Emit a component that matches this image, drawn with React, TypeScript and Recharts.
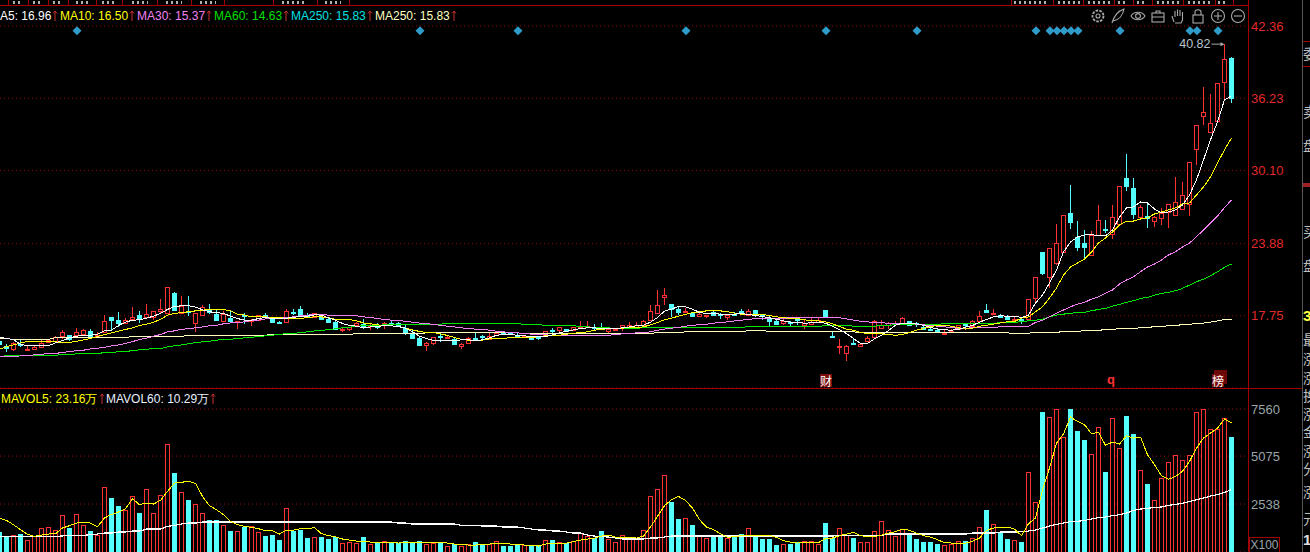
import { ComposedChart, Bar, Line, XAxis, YAxis, CartesianGrid, ReferenceDot } from 'recharts';

// daily prices
const opens = [
  15.59,15.22,14.91,15.34,14.91,14.94,15.11,15.51,15.59,16.05,
  16.08,16.13,16.19,16.44,15.91,16.36,17.64,17.38,17.10,17.46,
  17.81,17.64,17.64,18.17,18.03,19.65,18.03,18.15,17.13,17.81,
  18.37,17.92,17.29,17.55,17.24,17.78,17.27,17.41,17.81,17.44,
  17.21,17.24,18.06,18.32,17.83,17.66,17.66,17.44,17.24,16.64,
  16.64,16.93,17.04,16.90,16.95,17.04,17.18,17.10,16.70,16.22,
  15.85,15.31,15.40,16.05,15.85,15.82,15.22,15.45,15.88,16.05,
  15.79,16.10,16.30,16.30,16.13,15.96,15.96,15.96,16.02,16.53,
  16.56,16.67,16.56,16.78,16.81,16.81,16.81,16.44,16.59,16.70,
  16.76,16.81,16.95,17.38,18.00,19.31,18.74,18.32,18.15,18.03,
  17.75,17.78,18.06,17.89,17.66,17.92,18.17,17.86,18.23,17.81,
  17.46,17.32,17.15,17.24,17.46,17.01,17.07,17.24,18.23,16.02,
  15.11,14.57,15.40,15.20,15.59,15.96,16.73,17.01,17.07,17.15,
  17.29,17.15,16.84,16.64,16.56,16.27,16.42,16.64,17.07,16.90,
  17.32,18.26,17.89,17.78,17.64,17.46,17.52,17.49,19.26,23.20,
  21.04,22.23,23.14,26.52,24.41,23.96,22.88,24.58,25.12,24.73,
  25.58,29.49,28.64,26.12,26.20,25.81,26.03,26.60,26.35,26.83,
  27.26,31.88,34.71,33.35,34.28,37.64,39.64,
];
const highs = [
  15.68,15.34,15.54,15.74,15.17,15.25,15.68,15.79,16.02,16.53,
  16.10,16.70,16.59,16.62,16.36,17.81,17.64,18.06,17.55,18.49,
  18.15,18.74,18.20,19.17,20.16,19.76,19.42,19.42,17.98,18.66,
  18.74,18.37,18.15,18.15,17.29,18.03,17.44,17.81,17.98,17.58,
  17.29,18.32,18.32,18.57,17.95,18.00,17.72,17.58,17.32,16.81,
  16.81,17.21,17.46,17.18,17.10,17.21,17.32,17.21,16.93,16.53,
  16.02,15.54,15.96,16.25,16.10,15.96,15.45,15.93,16.30,16.10,
  16.25,16.39,16.36,16.39,16.36,16.10,15.96,16.05,16.44,16.70,
  16.78,16.67,16.81,17.29,17.29,17.04,17.13,16.67,16.73,16.93,
  17.21,17.24,17.38,18.66,19.93,20.08,18.74,18.57,18.43,18.06,
  17.95,17.86,18.17,18.00,17.81,18.09,18.32,18.32,18.23,17.81,
  17.72,17.46,17.52,17.32,17.58,17.46,17.61,17.61,18.23,16.44,
  15.74,15.31,15.82,15.40,16.02,17.38,17.38,17.24,17.32,17.64,
  17.29,17.24,16.95,16.73,16.67,16.53,16.59,16.95,17.07,17.38,
  18.15,18.74,18.37,17.89,17.78,17.66,17.69,19.17,21.04,23.20,
  23.51,25.58,26.32,28.90,25.83,25.07,24.92,27.20,25.86,27.20,
  28.79,31.45,29.49,27.20,27.37,26.26,26.92,27.28,29.55,29.15,
  30.83,33.92,37.21,36.56,37.55,40.82,39.70,
];
const lows = [
  15.25,14.69,14.74,15.11,14.74,14.91,15.03,15.45,15.54,15.74,
  15.59,16.05,16.13,16.02,15.91,16.25,16.44,16.81,17.04,17.44,
  17.13,17.58,17.38,17.95,17.95,18.17,18.00,17.72,16.36,17.78,
  17.89,17.38,17.27,17.29,16.62,17.04,16.87,17.38,17.58,17.13,
  17.04,17.21,17.81,17.75,17.64,17.61,17.41,17.13,16.53,16.39,
  16.47,16.87,16.67,16.53,16.64,16.62,16.98,16.90,16.16,15.74,
  15.17,14.74,15.25,15.54,15.76,15.34,14.94,15.37,15.74,15.68,
  15.68,16.02,16.19,16.08,15.91,15.88,15.68,15.68,15.96,16.25,
  16.30,16.39,16.47,16.76,16.76,16.53,16.56,16.25,16.53,16.42,
  16.73,16.76,16.90,17.32,17.95,18.66,17.66,17.81,17.95,17.66,
  17.72,17.55,17.83,17.46,17.38,17.83,17.95,17.81,17.66,17.38,
  16.87,17.04,17.01,16.87,16.95,16.62,17.04,17.18,17.66,15.93,
  14.49,13.89,15.34,15.17,15.51,15.91,16.70,16.62,17.01,17.10,
  16.95,16.81,16.56,16.47,16.36,16.22,16.36,16.62,16.76,16.76,
  17.24,17.98,17.83,17.58,17.38,17.38,17.07,17.35,18.88,21.18,
  20.11,22.09,23.14,25.15,23.22,22.52,22.88,24.50,24.79,24.28,
  25.58,28.39,25.98,26.00,25.18,25.32,25.49,25.18,26.32,26.77,
  26.20,30.52,33.92,33.32,34.28,36.13,35.80,
];
const closes = [
  15.34,15.00,15.48,15.28,14.97,15.14,15.40,15.68,15.91,16.36,
  15.79,16.36,16.53,16.05,16.10,17.27,17.38,17.18,17.38,17.64,
  17.46,17.89,18.15,18.29,20.16,18.23,18.57,18.06,17.98,18.46,
  18.09,17.38,17.89,17.29,17.27,17.72,17.38,17.78,17.75,17.24,
  17.15,18.12,18.00,17.78,17.78,17.95,17.46,17.24,16.62,16.67,
  16.78,17.10,16.87,16.95,16.76,17.10,17.13,17.01,16.25,15.85,
  15.25,15.40,15.91,15.99,15.93,15.37,15.34,15.88,15.82,15.99,
  16.02,16.33,16.27,16.25,15.93,16.02,15.76,15.88,16.42,16.47,
  16.78,16.50,16.78,16.87,16.87,16.76,16.59,16.64,16.64,16.93,
  17.01,16.93,17.35,18.12,18.63,19.48,18.35,18.06,18.20,17.75,
  17.92,17.86,17.83,17.83,17.78,17.89,18.12,18.20,17.78,17.75,
  17.32,17.04,17.27,17.18,17.41,17.10,17.24,17.38,17.72,15.99,
  15.17,15.17,15.37,15.37,15.85,17.35,16.95,17.18,17.13,17.55,
  17.01,17.07,16.62,16.53,16.39,16.33,16.50,16.93,17.01,17.27,
  17.72,18.09,17.98,17.69,17.46,17.52,17.49,19.17,21.04,21.38,
  23.51,23.94,26.32,25.69,23.56,23.62,24.64,25.89,25.06,26.15,
  28.79,28.81,26.43,27.00,26.03,26.15,26.49,27.26,27.43,28.02,
  30.83,33.92,35.05,34.15,37.55,39.59,36.23,
];

const ma5 = [
  15.96,15.82,15.74,15.31,15.22,15.20,15.20,15.22,15.45,15.65,
  15.88,16.02,16.08,16.10,16.19,16.47,16.53,16.93,17.21,17.38,
  17.41,17.55,17.72,17.95,18.29,18.54,18.60,18.60,18.49,18.26,
  18.09,18.03,17.95,17.72,17.52,17.38,17.38,17.52,17.61,17.52,
  17.52,17.55,17.61,17.72,17.72,17.83,17.81,17.58,17.38,17.10,
  16.93,16.87,16.73,16.81,16.87,16.90,16.90,16.84,16.70,16.39,
  16.02,15.82,15.65,15.62,15.62,15.65,15.71,15.71,15.65,15.71,
  15.88,16.10,16.16,16.16,16.10,16.05,15.96,15.96,15.99,16.13,
  16.30,16.44,16.56,16.67,16.73,16.73,16.67,16.67,16.67,16.73,
  16.81,16.90,16.95,17.21,17.61,18.15,18.32,18.54,18.52,18.32,
  18.03,17.95,17.95,17.89,17.83,17.89,17.95,17.86,17.78,17.69,
  17.58,17.46,17.32,17.21,17.18,17.13,17.15,17.18,17.13,16.87,
  16.56,16.25,15.82,15.40,15.40,15.79,16.10,16.50,16.95,17.13,
  17.13,17.07,16.95,16.76,16.64,16.56,16.53,16.59,16.78,16.93,
  17.21,17.44,17.66,17.75,17.72,17.72,17.61,17.81,18.83,19.51,
  20.53,21.64,23.17,24.02,24.44,24.61,24.64,24.55,24.53,25.04,
  26.14,26.91,26.99,27.42,27.33,26.82,26.48,26.57,26.74,27.16,
  28.01,29.29,30.99,32.69,34.22,36.09,36.43,
];
const ma10 = [
  14.91,15.14,15.28,15.45,15.56,15.56,15.56,15.56,15.54,15.48,
  15.48,15.59,15.71,15.82,15.99,16.16,16.30,16.44,16.59,16.73,
  16.93,17.04,17.21,17.44,17.81,17.95,18.03,18.09,18.17,18.23,
  18.29,18.29,18.29,18.17,17.89,17.81,17.66,17.66,17.66,17.61,
  17.58,17.55,17.52,17.52,17.61,17.66,17.66,17.58,17.46,17.44,
  17.44,17.32,17.15,17.07,16.98,16.93,16.90,16.84,16.70,16.56,
  16.42,16.33,16.33,16.22,16.08,15.91,15.74,15.68,15.65,15.68,
  15.79,15.82,15.82,15.91,15.91,15.93,15.93,15.96,16.05,16.08,
  16.10,16.19,16.27,16.33,16.39,16.53,16.62,16.64,16.67,16.70,
  16.76,16.76,16.81,16.98,17.18,17.41,17.55,17.72,17.86,18.03,
  18.09,18.17,18.17,18.17,18.09,17.98,17.89,17.89,17.86,17.86,
  17.78,17.66,17.61,17.52,17.52,17.41,17.32,17.32,17.24,17.07,
  16.84,16.62,16.53,16.33,16.25,16.25,16.22,16.16,16.10,16.16,
  16.33,16.53,16.67,16.84,16.93,16.95,16.87,16.73,16.62,16.70,
  16.87,16.95,17.04,17.15,17.24,17.27,17.55,17.66,18.09,18.52,
  19.26,20.11,21.21,21.89,22.23,22.57,23.17,23.93,24.36,24.87,
  25.46,25.80,25.80,25.97,26.06,26.40,26.57,26.74,26.91,27.25,
  27.33,28.01,28.69,29.54,30.73,31.84,32.86,
];
const ma30 = [
  14.29,14.29,14.32,14.34,14.40,14.43,14.49,14.54,14.54,14.66,
  14.69,14.80,14.83,14.94,15.00,15.08,15.20,15.28,15.40,15.56,
  15.74,15.85,16.02,16.16,16.39,16.47,16.62,16.64,16.73,16.81,
  16.90,16.95,17.07,17.15,17.18,17.24,17.35,17.38,17.49,17.52,
  17.55,17.61,17.66,17.75,17.81,17.86,17.86,17.81,17.81,17.78,
  17.78,17.75,17.66,17.61,17.52,17.44,17.38,17.35,17.29,17.21,
  17.13,17.10,17.01,16.95,16.87,16.81,16.73,16.67,16.62,16.59,
  16.53,16.44,16.39,16.33,16.30,16.25,16.19,16.16,16.13,16.10,
  16.10,16.10,16.10,16.10,16.10,16.10,16.10,16.10,16.16,16.22,
  16.25,16.30,16.33,16.39,16.53,16.62,16.70,16.76,16.87,16.93,
  17.01,17.04,17.13,17.18,17.24,17.32,17.38,17.44,17.52,17.52,
  17.52,17.55,17.55,17.58,17.61,17.61,17.61,17.61,17.61,17.61,
  17.58,17.49,17.38,17.29,17.24,17.18,17.15,17.13,17.10,17.10,
  17.10,17.04,16.98,16.93,16.87,16.81,16.76,16.67,16.70,16.73,
  16.76,16.76,16.78,16.81,16.84,16.87,16.81,16.87,17.19,17.38,
  17.67,17.98,18.24,18.52,18.74,18.89,19.17,19.37,19.68,19.94,
  20.45,20.79,21.07,21.49,21.89,22.15,22.49,22.92,23.19,23.59,
  23.93,24.47,25.04,25.63,26.23,26.93,27.59,
];
const ma60 = [
  14.29,14.37,14.37,14.37,14.37,14.37,14.37,14.37,14.40,14.46,
  14.46,14.52,14.54,14.54,14.54,14.63,14.63,14.71,14.71,14.80,
  14.86,14.91,14.97,14.97,15.11,15.20,15.28,15.37,15.48,15.54,
  15.59,15.68,15.74,15.76,15.82,15.88,15.93,15.99,16.05,16.10,
  16.19,16.22,16.25,16.33,16.39,16.47,16.50,16.59,16.64,16.73,
  16.78,16.87,16.90,16.95,16.95,16.98,17.01,17.01,17.01,17.01,
  17.04,17.04,17.04,17.04,17.10,17.10,17.10,17.10,17.10,17.10,
  17.10,17.10,17.10,17.10,17.10,17.01,17.01,17.01,16.93,16.93,
  16.93,16.93,16.93,16.81,16.81,16.76,16.73,16.73,16.67,16.67,
  16.67,16.70,16.73,16.73,16.76,16.76,16.76,16.76,16.76,16.76,
  16.76,16.76,16.76,16.76,16.76,16.76,16.76,16.84,16.84,16.84,
  16.84,16.84,16.84,16.84,16.84,16.84,16.84,16.84,16.93,16.93,
  16.93,16.93,16.87,16.87,16.87,16.87,16.93,16.93,17.01,17.01,
  17.01,17.01,17.01,17.01,17.01,17.10,17.10,17.10,17.10,17.10,
  17.10,17.10,17.10,17.18,17.18,17.18,17.27,17.32,17.38,17.47,
  17.67,17.81,17.89,17.98,18.00,18.04,18.18,18.29,18.38,18.57,
  18.72,18.89,19.03,19.23,19.31,19.51,19.65,19.74,19.88,20.08,
  20.36,20.64,20.87,21.15,21.49,21.87,22.15,
];
const ma250 = [
  15.82,15.82,15.74,15.74,15.74,15.74,15.74,15.74,15.91,15.91,
  15.91,15.91,15.91,15.91,15.91,15.91,15.91,15.91,15.91,15.99,
  15.99,15.99,15.99,15.99,15.99,15.99,15.99,16.10,16.10,16.10,
  16.10,16.10,16.10,16.10,16.10,16.10,16.10,16.10,16.10,16.19,
  16.19,16.19,16.19,16.19,16.19,16.19,16.19,16.19,16.19,16.16,
  16.16,16.25,16.25,16.25,16.25,16.25,16.25,16.25,16.25,16.25,
  16.25,16.30,16.30,16.30,16.30,16.30,16.30,16.30,16.30,16.30,
  16.30,16.30,16.30,16.30,16.30,16.25,16.25,16.25,16.25,16.25,
  16.25,16.25,16.25,16.25,16.25,16.25,16.25,16.25,16.25,16.25,
  16.25,16.25,16.25,16.25,16.33,16.33,16.33,16.33,16.39,16.39,
  16.39,16.39,16.39,16.39,16.39,16.39,16.39,16.50,16.50,16.50,
  16.42,16.42,16.42,16.42,16.42,16.42,16.42,16.42,16.39,16.39,
  16.39,16.39,16.39,16.30,16.30,16.30,16.30,16.30,16.30,16.30,
  16.30,16.30,16.30,16.30,16.30,16.30,16.30,16.30,16.30,16.30,
  16.30,16.30,16.30,16.30,16.30,16.25,16.28,16.28,16.34,16.34,
  16.34,16.34,16.42,16.42,16.42,16.51,16.51,16.51,16.59,16.59,
  16.68,16.68,16.68,16.73,16.73,16.85,16.85,16.90,16.90,17.02,
  17.02,17.13,17.13,17.21,17.32,17.44,17.44,
];

// volume in hundreds of lots
const volumes = [
  1074,862,915,968,650,827,1285,1338,1179,1955,
  1285,2026,1444,1126,897,3454,2872,2449,2237,2960,
  2078,3330,2078,3013,5710,4194,3172,2766,2537,2061,
  1708,1708,1426,1126,1109,1320,1391,1056,862,915,
  650,2325,1126,1179,756,791,809,703,791,474,
  545,492,809,421,527,580,527,456,580,510,
  580,421,474,527,316,404,316,421,527,421,
  421,580,333,333,421,351,368,316,633,651,
  527,474,580,1003,844,739,1127,703,545,897,
  792,686,1162,2960,3330,4071,2660,1761,1796,1444,
  897,739,915,844,756,809,968,1268,827,703,
  703,386,421,439,545,580,580,421,1550,721,
  1268,915,756,527,527,1109,1638,1162,844,1197,
  1003,703,545,545,439,368,439,580,598,739,
  1321,2237,1479,1021,686,633,545,4247,2643,7420,
  7138,7562,6080,7579,6415,5940,5181,6610,4247,7086,
  5499,7209,6257,4335,3612,2766,3912,4758,5129,4864,
  5129,7420,7562,6503,6503,7086,6098,
];
const mavol5 = [
  1779,1673,1444,1179,933,827,897,950,968,1268,
  1391,1532,1585,1532,1338,1796,1990,2114,2290,2819,
  2502,2590,2537,2731,3207,3648,3683,3753,3630,2942,
  2449,2237,1973,1620,1444,1356,1303,1232,1126,1126,
  950,1162,1162,1232,1232,1285,968,862,809,686,
  633,580,580,527,527,527,527,474,527,527,
  527,527,527,527,474,421,421,368,368,421,
  421,474,474,421,421,368,368,316,421,474,
  474,474,545,633,686,739,844,897,792,792,
  792,739,844,1320,1885,2449,2766,2942,2731,2325,
  1709,1320,1179,968,774,809,862,880,880,880,
  880,774,598,527,474,492,527,492,721,739,
  862,950,1038,862,809,809,897,1003,1074,1215,
  1144,1003,862,792,651,492,474,474,474,562,
  739,1144,1268,1320,1320,1215,862,1497,1796,3295,
  4441,5764,6240,7139,6909,6733,6257,6327,5640,5816,
  5710,6151,6028,6081,5146,4617,4035,3841,4000,4265,
  4793,5498,6028,6292,6557,7033,6821,
];
const mavol60 = [
  809,809,809,809,809,809,827,827,827,850,
  880,880,880,915,950,1003,1003,1056,1056,1109,
  1109,1215,1215,1215,1356,1409,1480,1532,1532,1585,
  1585,1585,1585,1585,1585,1585,1585,1585,1585,1585,
  1585,1585,1585,1585,1585,1585,1585,1585,1585,1585,
  1585,1585,1585,1585,1585,1585,1585,1532,1532,1479,
  1479,1479,1479,1479,1479,1479,1409,1409,1409,1373,
  1373,1373,1320,1320,1320,1268,1215,1162,1162,1109,
  1109,1056,1003,1003,897,844,809,792,739,686,
  686,686,686,739,739,792,844,844,844,844,
  844,844,844,844,844,844,844,844,844,844,
  844,844,844,844,844,844,844,844,844,844,
  880,880,880,880,880,880,880,950,950,950,
  950,950,950,950,950,950,950,950,950,1003,
  1003,1003,1003,1056,1056,1056,1074,1109,1162,1268,
  1373,1462,1532,1603,1620,1673,1744,1815,1850,1920,
  1973,2061,2202,2273,2308,2361,2379,2467,2520,2572,
  2678,2766,2854,2960,3031,3155,3295,
];

const priceTicks = [17.75, 23.88, 30.1, 36.23, 42.36];
const volumeTicks = [2538, 5075, 7560];
const markerDays = [11, 60, 74, 98, 118, 131, 148, 150, 151, 152, 153, 154, 160, 170, 171, 174];
const markerLevel = 41.96;

const priceLegend = [
  { name: 'A5', value: '16.96', color: '#ffffff', left: 0 },
  { name: 'MA10', value: '16.50', color: '#ffff00', left: 60 },
  { name: 'MA30', value: '15.37', color: '#f080f0', left: 137 },
  { name: 'MA60', value: '14.63', color: '#00e000', left: 214 },
  { name: 'MA250', value: '15.83', color: '#00e0e0', left: 291 },
  { name: 'MA250', value: '15.83', color: '#ffffc0', left: 375 },
];
const volumeLegend = [
  { name: 'MAVOL5', value: '23.16万', color: '#ffff00', left: 1 },
  { name: 'MAVOL60', value: '10.29万', color: '#e8f0ff', left: 106 },
];
const sidePanel = [
  { t: '委', y: 46 }, { t: '卖', y: 104 }, { t: '盘', y: 138 }, { t: '买', y: 224 }, { t: '盘', y: 258 },
  { t: '最', y: 332 }, { t: '涨', y: 351 }, { t: '涨', y: 370 }, { t: '换', y: 388 }, { t: '涨', y: 406 },
  { t: '金', y: 424 }, { t: '涨', y: 443 }, { t: '分', y: 461 }, { t: '涨', y: 484 }, { t: '元', y: 511 },
];
const tabEdges = [8, 28, 48, 68, 96, 122, 157, 191, 224, 273, 317, 349, 1011, 1053, 1083, 1114, 1133, 1152, 1183, 1215, 1233];
// the tab captions are cut away in the picture, only their lower edge shows
const tabStubs = [
  [13, 10], [33, 10], [53, 8], [76, 12], [102, 14], [132, 16], [166, 16], [200, 16], [282, 24], [325, 16],
  [1014, 34], [1058, 22], [1088, 22], [1118, 10], [1137, 10], [1157, 22], [1188, 22], [1218, 10],
];

const RED = '#ff3232';
const CYAN = '#54ffff';
const GRID = '#9a0808';
const FRAME = '#a00000';
const FONT = '"Liberation Sans", Arial, sans-serif';

const days = closes.map((_, i) => i);

const priceData = days.map((i) => ({
  day: i,
  open: opens[i],
  close: closes[i],
  high: highs[i],
  low: lows[i],
  range: [lows[i], highs[i]],
  ma5: ma5[i],
  ma10: ma10[i],
  ma30: ma30[i],
  ma60: ma60[i],
  ma250: ma250[i],
  marker: markerDays.includes(i) ? markerLevel : null,
}));

const volumeData = days.map((i) => ({
  day: i,
  volume: volumes[i],
  up: closes[i] >= opens[i],
  mavol5: mavol5[i],
  mavol60: mavol60[i],
}));

function Candle(props: any) {
  const { x, y, width, height, payload } = props;
  const { open, close, high, low } = payload;
  const up = close >= open;
  const color = up ? RED : CYAN;
  const perUnit = height / (high - low);
  const top = Math.round(y + (high - Math.max(open, close)) * perUnit);
  const bottom = Math.round(y + (high - Math.min(open, close)) * perUnit);
  const cx = Math.floor(x + width / 2) + 0.5;
  const bodyH = Math.max(bottom - top, 1);
  return (
    <g shapeRendering="crispEdges">
      <line x1={cx} x2={cx} y1={Math.round(y)} y2={Math.round(y + height)} stroke={color} />
      {up ? (
        <rect x={x + 0.5} y={top + 0.5} width={width - 1} height={bodyH} fill="#000" stroke={color} />
      ) : (
        <rect x={x} y={top} width={width} height={bodyH + 1} fill={color} />
      )}
    </g>
  );
}

function VolumeBar(props: any) {
  const { x, y, width, height, payload } = props;
  if (payload.up) {
    return <rect x={x + 0.5} y={Math.round(y) + 0.5} width={width - 1} height={height} fill="#000" stroke={RED} shapeRendering="crispEdges" />;
  }
  return <rect x={x} y={Math.round(y)} width={width} height={height + 1} fill={CYAN} shapeRendering="crispEdges" />;
}

function Diamond(props: any) {
  const { cx, cy, payload } = props;
  if (payload.marker == null) return <g />;
  const mx = cx + 0.5;
  return <path d={`M${mx} ${cy - 4.5}L${mx + 4.5} ${cy}L${mx} ${cy + 4.5}L${mx - 4.5} ${cy}Z`} fill="#2f9bc9" />;
}

function HighNote(props: any) {
  const { cx, cy } = props;
  return (
    <g>
      <text x={cx - 14} y={cy + 4} textAnchor="end" fill="#b8c4cc" fontSize={12.5} fontFamily={FONT}>40.82</text>
      <line x1={cx - 13} x2={cx - 2} y1={cy} y2={cy} stroke="#aaaaaa" />
      <path d={`M${cx} ${cy}l-4 -2v4z`} fill="#aaaaaa" />
    </g>
  );
}

function Icon({ x, children }: { x: number; children: any }) {
  return (
    <svg width={16} height={16} viewBox="0 0 16 16" style={{ position: 'absolute', left: x - 8, top: 8 }} fill="none" stroke="#a8a8a8" strokeWidth={1.1}>
      {children}
    </svg>
  );
}

function Toolbar() {
  return (
    <>
      <Icon x={1098}><circle cx={8} cy={8} r={5.5} strokeDasharray="2.6 1.2" strokeWidth={1.8} /><circle cx={8} cy={8} r={2} /></Icon>
      <Icon x={1118}><path d="M2 15C4 8 8 3 14 1C13 7 9 12 3 13" /></Icon>
      <Icon x={1138}><path d="M1 8C4 3 12 3 15 8C12 13 4 13 1 8Z" /><circle cx={8} cy={8} r={2.4} /></Icon>
      <Icon x={1158}><rect x={2} y={5} width={12} height={9} /><path d="M2 9H14M6 5V3H10V5" /></Icon>
      <Icon x={1178}><path d="M4 14L2 8M5 9V3M7.5 8V1.5M10 8V2M12.5 9V4M12.5 9V12L11 15H5" /></Icon>
      <Icon x={1198}><rect x={3} y={7} width={10} height={8} /><path d="M5 7V4C5 1 11 1 11 4V7" /></Icon>
      <Icon x={1218}><circle cx={8} cy={8} r={6.5} /><path d="M4 8H12M8 4V12" /></Icon>
      <Icon x={1238}><circle cx={8} cy={8} r={6.5} /><path d="M4 8H12" /></Icon>
    </>
  );
}

function UpArrow() {
  return (
    <svg width={6} height={11} viewBox="0 0 6 11" style={{ marginLeft: 1, verticalAlign: -1 }} fill="none" stroke="#c83030">
      <path d="M3 11V1M1 3.5L3 1L5 3.5" />
    </svg>
  );
}

function LegendRow({ items, top }: { items: typeof priceLegend; top: number }) {
  return (
    <>
      {items.map((d) => (
        <span key={d.left} style={{ position: 'absolute', left: d.left, top, color: d.color, fontSize: 12, lineHeight: '14px', whiteSpace: 'nowrap', fontFamily: FONT }}>
          {d.name}: {d.value}<UpArrow />
        </span>
      ))}
    </>
  );
}

function Frame() {
  return (
    <>
      {tabStubs.map(([x, w]) => (
        <div key={x} style={{ position: 'absolute', left: x, top: 1, width: w, height: 3, background: 'repeating-linear-gradient(90deg, #b0b0b0 0 2px, #000 2px 5px)' }} />
      ))}
      <div style={{ position: 'absolute', left: 0, top: 5, width: 1248, height: 1, background: FRAME }} />
      {tabEdges.map((x) => (
        <div key={x} style={{ position: 'absolute', left: x, top: 0, width: 1, height: 5, background: FRAME }} />
      ))}
      <div style={{ position: 'absolute', left: 0, top: 388, width: 1302, height: 1, background: FRAME }} />
      <div style={{ position: 'absolute', left: 1248, top: 0, width: 1, height: 552, background: FRAME }} />
      <div style={{ position: 'absolute', left: 1302, top: 0, width: 1, height: 552, background: '#555' }} />
      <div style={{ position: 'absolute', left: 1303, top: 41, width: 7, height: 1, background: FRAME }} />
      <div style={{ position: 'absolute', left: 1303, top: 66, width: 7, height: 1, background: FRAME }} />
      <div style={{ position: 'absolute', left: 1303, top: 183, width: 7, height: 4, background: '#a02020' }} />
      {sidePanel.map((d) => (
        <span key={`${d.t}${d.y}`} style={{ position: 'absolute', left: 1303, top: d.y, color: '#c0c0c0', fontSize: 14, lineHeight: '14px', fontFamily: '"Noto Sans CJK SC"' }}>{d.t}</span>
      ))}
      <span style={{ position: 'absolute', left: 1303, top: 307, color: '#ffff40', fontSize: 15, lineHeight: '18px', fontFamily: FONT, fontWeight: 700 }}>3</span>
      <span style={{ position: 'absolute', left: 1303, top: 531, color: '#e0e0e0', fontSize: 15, lineHeight: '18px', fontFamily: FONT, fontWeight: 700 }}>1</span>

      <span style={{ position: 'absolute', left: 820, top: 374, width: 12, height: 13, background: '#7a0c0c', color: '#fff', fontSize: 12, lineHeight: '13px', textAlign: 'center', fontFamily: '"Noto Sans CJK SC"' }}>财</span>
      <span style={{ position: 'absolute', left: 1107, top: 372, color: RED, fontSize: 13, lineHeight: '16px', fontWeight: 700, fontFamily: FONT }}>q</span>
      <div style={{ position: 'absolute', left: 1214, top: 370, width: 13, height: 14, background: '#6a0808' }} />
      <span style={{ position: 'absolute', left: 1212, top: 374, width: 12, height: 13, background: '#7a0c0c', color: '#fff', fontSize: 12, lineHeight: '13px', textAlign: 'center', fontFamily: '"Noto Sans CJK SC"' }}>榜</span>

      <span style={{ position: 'absolute', left: 1249, top: 537, width: 29, height: 14, border: `1px solid ${FRAME}`, boxSizing: 'content-box', color: '#9aa4a8', fontSize: 12, lineHeight: '14px', textAlign: 'center', fontFamily: FONT }}>X100</span>
    </>
  );
}

export default function App() {
  return (
    <div style={{ position: 'absolute', left: 0, top: 0, width: 1310, height: 552, overflow: 'hidden', background: '#000' }}>
      <div style={{ position: 'absolute', left: 0, top: 0 }}>
        <ComposedChart width={1310} height={388} data={priceData} margin={{ top: 26, right: 0, bottom: 0, left: -4 }}>
          <CartesianGrid horizontal vertical={false} stroke={GRID} strokeDasharray="1 3" />
          <XAxis dataKey="day" hide padding={{ left: 0, right: 13 }} />
          <YAxis
            orientation="right"
            width={62}
            domain={[11.62, 42.36]}
            ticks={priceTicks}
            interval={0}
            allowDataOverflow
            axisLine={false}
            tickLine={false}
            tickSize={0}
            tickMargin={3}
            tickFormatter={(v: number) => v.toFixed(2)}
            tick={{ fill: '#e02a2a', fontSize: 13, fontFamily: FONT }}
          />
          <Bar dataKey="range" barSize={5} shape={<Candle />} isAnimationActive={false} />
          <Line dataKey="ma250" stroke="#ffffc0" dot={false} strokeWidth={1} shapeRendering="crispEdges" isAnimationActive={false} />
          <Line dataKey="ma60" stroke="#00e800" dot={false} strokeWidth={1} shapeRendering="crispEdges" isAnimationActive={false} />
          <Line dataKey="ma30" stroke="#f080f0" dot={false} strokeWidth={1} shapeRendering="crispEdges" isAnimationActive={false} />
          <Line dataKey="ma10" stroke="#ffff00" dot={false} strokeWidth={1} shapeRendering="crispEdges" isAnimationActive={false} />
          <Line dataKey="ma5" stroke="#ffffff" dot={false} strokeWidth={1} shapeRendering="crispEdges" isAnimationActive={false} />
          <Line dataKey="marker" stroke="none" dot={<Diamond />} isAnimationActive={false} />
          <ReferenceDot x={175} y={40.82} shape={<HighNote />} />
        </ComposedChart>
      </div>
      <div style={{ position: 'absolute', left: 0, top: 388 }}>
        <ComposedChart width={1310} height={164} data={volumeData} margin={{ top: 0, right: 0, bottom: 0, left: -4 }}>
          <CartesianGrid horizontal vertical={false} stroke={GRID} strokeDasharray="1 3" />
          <XAxis dataKey="day" hide padding={{ left: 0, right: 13 }} />
          <YAxis
            orientation="right"
            width={62}
            domain={[0, 8676]}
            ticks={volumeTicks}
            interval={0}
            allowDataOverflow
            axisLine={false}
            tickLine={false}
            tickSize={0}
            tickMargin={3}
            tick={{ fill: '#9aa4a8', fontSize: 13, fontFamily: FONT }}
          />
          <Bar dataKey="volume" barSize={5} shape={<VolumeBar />} isAnimationActive={false} />
          <Line dataKey="mavol60" stroke="#ffffff" dot={false} strokeWidth={1.2} shapeRendering="crispEdges" isAnimationActive={false} />
          <Line dataKey="mavol5" stroke="#ffff00" dot={false} strokeWidth={1} shapeRendering="crispEdges" isAnimationActive={false} />
        </ComposedChart>
      </div>
      <Frame />
      <Toolbar />
      <LegendRow items={priceLegend} top={9} />
      <LegendRow items={volumeLegend} top={392} />
    </div>
  );
}
